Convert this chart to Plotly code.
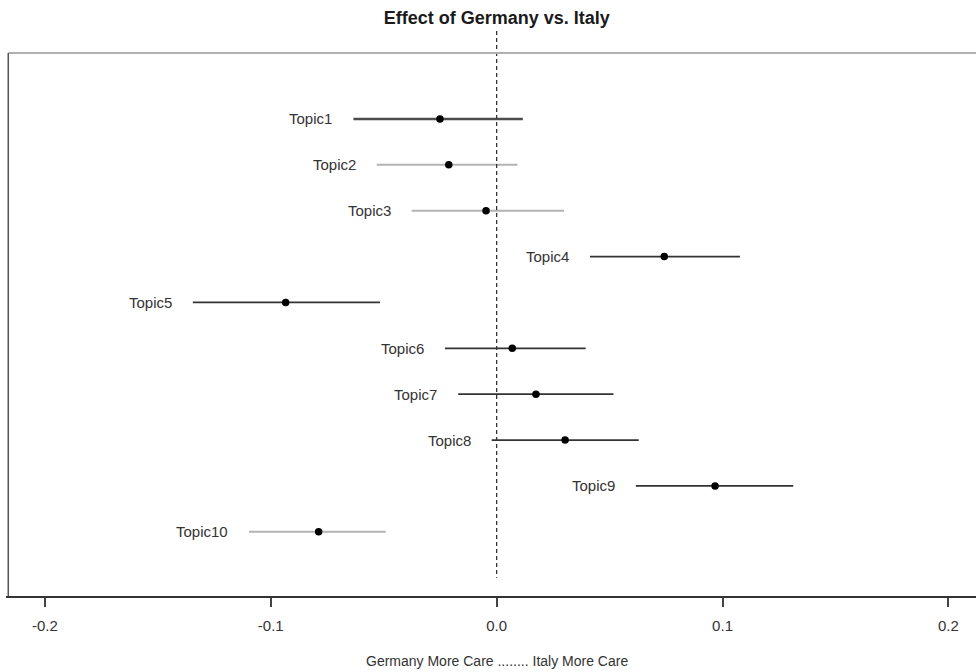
import plotly.graph_objects as go

# Estimated topic effects with their interval bounds
topics = ["Topic1", "Topic2", "Topic3", "Topic4", "Topic5",
          "Topic6", "Topic7", "Topic8", "Topic9", "Topic10"]
estimate = [-0.0251, -0.0212, -0.0047, 0.0742, -0.0934,
            0.0069, 0.0174, 0.0303, 0.0967, -0.0788]
lower = [-0.0634, -0.0531, -0.0376, 0.0413, -0.1345,
         -0.0229, -0.0170, -0.0022, 0.0616, -0.1096]
upper = [0.0116, 0.0092, 0.0298, 0.1077, -0.0516,
         0.0394, 0.0517, 0.0629, 0.1313, -0.0491]
x_ticks = [-0.2, -0.1, 0.0, 0.1, 0.2]
x_tick_labels = ["-0.2", "-0.1", "0.0", "0.1", "0.2"]

# Line shade per topic (light grey for the non-significant ones)
LINE_STYLE = {
    "Topic1": ("#4d4d4d", 2.5),
    "Topic2": ("#b3b3b3", 2.0),
    "Topic3": ("#b3b3b3", 2.0),
    "Topic10": ("#b3b3b3", 2.0),
}
DEFAULT_STYLE = ("#333333", 1.8)

FONT = "Liberation Sans, Arial, sans-serif"
X_RANGE = [-0.2172, 0.2122]
Y_RANGE = [11.40, -0.94]
BOX_LEFT = -0.2162
BOX_TOP = -0.44

fig = go.Figure()

positions = list(range(1, len(topics) + 1))

for name, pos, lo, hi in zip(topics, positions, lower, upper):
    color, width = LINE_STYLE.get(name, DEFAULT_STYLE)
    fig.add_trace(go.Scatter(
        x=[lo, hi], y=[pos, pos], mode="lines",
        line=dict(color=color, width=width),
        hoverinfo="skip", showlegend=False,
    ))

fig.add_trace(go.Scatter(
    x=estimate, y=positions, mode="markers",
    marker=dict(color="black", size=7.5),
    text=topics, hovertemplate="%{text}: %{x:.3f}<extra></extra>",
    showlegend=False,
))

# Topic labels to the left of each interval
for name, pos, lo in zip(topics, positions, lower):
    fig.add_annotation(
        x=lo, y=pos, text=name, showarrow=False,
        xanchor="right", yanchor="middle", xshift=-19,
        font=dict(family=FONT, size=15, color="#333333"),
    )

# Zero reference line
fig.add_shape(type="line", xref="x", yref="y",
              x0=0, x1=0, y0=-0.92, y1=11.0,
              line=dict(color="#333333", width=1.3, dash="4px,3px"))

# Plot frame (top and left sides)
fig.add_shape(type="line", xref="x", yref="y",
              x0=BOX_LEFT, x1=X_RANGE[1], y0=BOX_TOP, y1=BOX_TOP,
              line=dict(color="#b0b0b0", width=2))
fig.add_shape(type="line", xref="x", yref="y",
              x0=BOX_LEFT, x1=BOX_LEFT, y0=BOX_TOP, y1=Y_RANGE[0],
              line=dict(color="#555555", width=1.5))

# Axis caption
fig.add_annotation(
    xref="x", yref="paper", x=0, y=0, yshift=-65,
    text="Germany More Care ........ Italy More Care",
    showarrow=False, xanchor="center", yanchor="middle",
    font=dict(family=FONT, size=14, color="#333333"),
)

fig.update_layout(
    width=976, height=672,
    margin=dict(l=6, r=0, t=30, b=76),
    paper_bgcolor="white", plot_bgcolor="white",
    title=dict(
        text="<b>Effect of Germany vs. Italy</b>",
        x=0.509, xanchor="center",
        y=1 - 18 / 672, yanchor="middle", yref="container",
        font=dict(family=FONT, size=18, color="#1a1a1a"),
    ),
    xaxis=dict(
        range=X_RANGE, tickvals=x_ticks, ticktext=x_tick_labels,
        showgrid=False, zeroline=False,
        showline=True, linecolor="#333333", linewidth=2,
        ticks="outside", ticklen=9, tickwidth=1.5, tickcolor="#444444",
        ticklabelstandoff=6,
        tickfont=dict(family=FONT, size=15, color="#333333"),
    ),
    yaxis=dict(
        range=Y_RANGE, showgrid=False, zeroline=False,
        showticklabels=False, showline=False, ticks="",
    ),
)

fig.write_html("out.html")
